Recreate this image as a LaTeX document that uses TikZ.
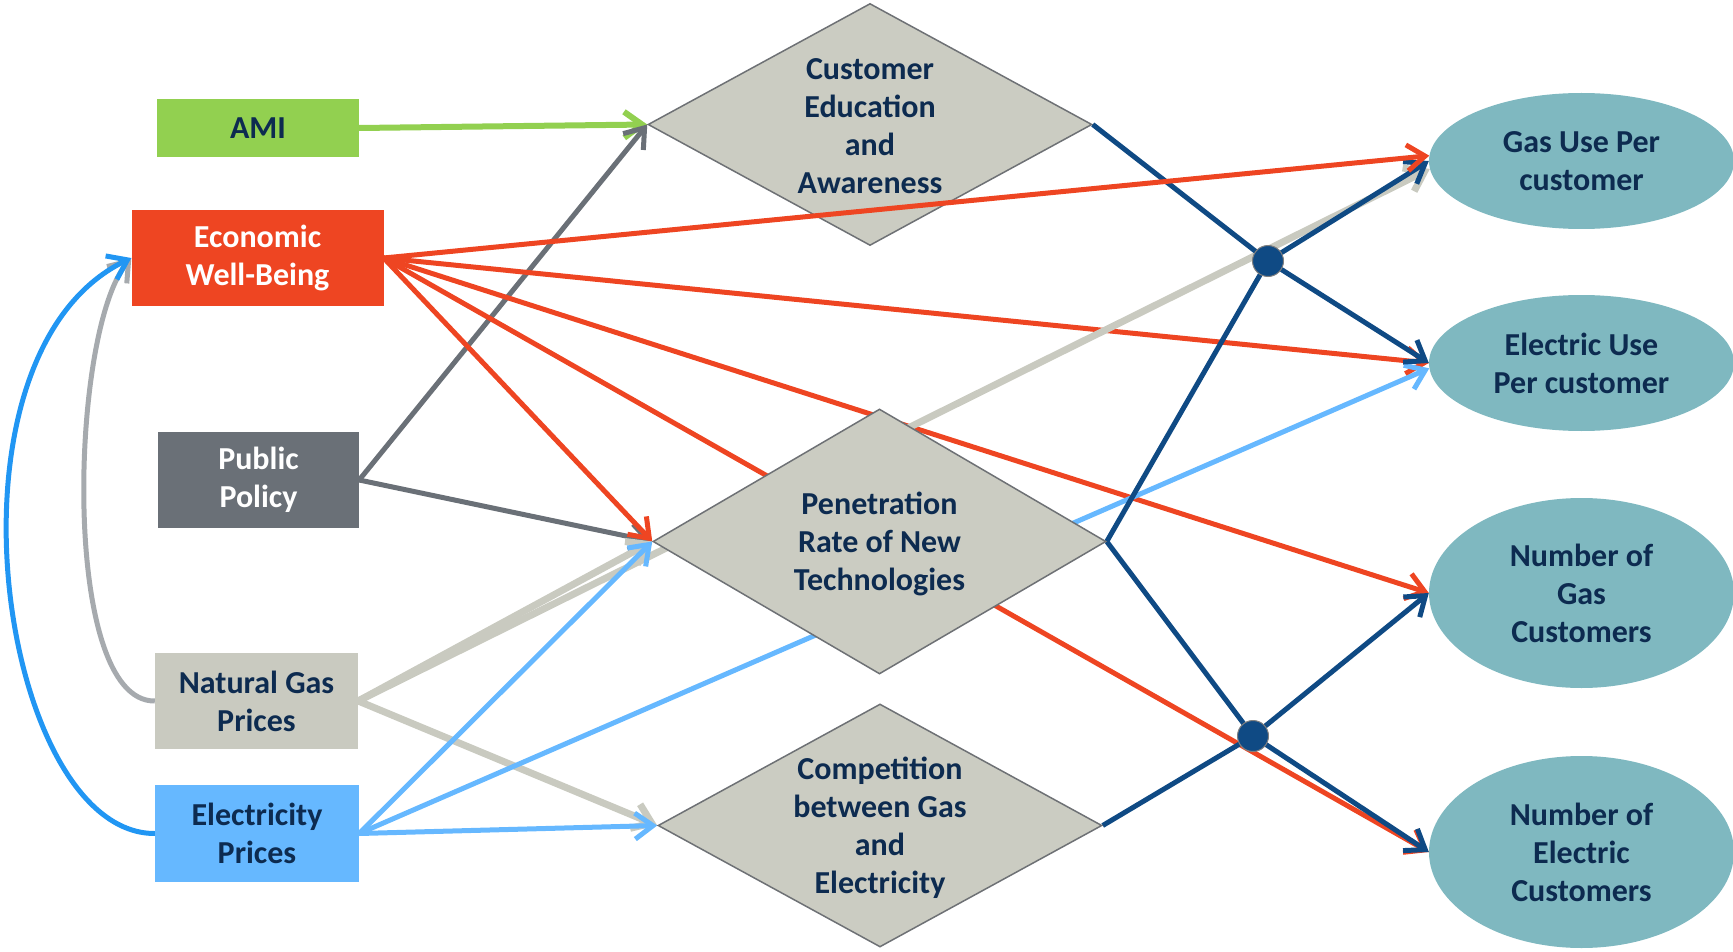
\documentclass[tikz,border=0pt]{standalone}
\usepackage{fontspec}
\setmainfont{Carlito}
\usetikzlibrary{shapes.geometric,arrows.meta}

\definecolor{navytext}{HTML}{0D2B50}
\definecolor{amigreen}{HTML}{92D050}
\definecolor{econred}{HTML}{EE4522}
\definecolor{policygray}{HTML}{6A7077}
\definecolor{gasgray}{HTML}{C9CAC0}
\definecolor{elecblue}{HTML}{66B8FF}
\definecolor{diamondfill}{HTML}{CBCCC2}
\definecolor{diamondline}{HTML}{6E7175}
\definecolor{outcometeal}{HTML}{7FB8C0}
\definecolor{linknavy}{HTML}{0F4A84}
\definecolor{loopblue}{HTML}{2196F3}
\definecolor{loopgray}{HTML}{A6AAAE}

\pgfdeclarelayer{back}
\pgfdeclarelayer{links}
\pgfsetlayers{back,links,main}

\tikzset{
  txt/.style={font=\fontsize{32}{38}\selectfont\bfseries, align=center},
  driver/.style={txt, rectangle, inner sep=0pt},
  decision/.style={diamond, fill=diamondfill, draw=diamondline, line width=1.5pt, inner sep=0pt},
  outcome/.style={txt, ellipse, fill=outcometeal, text=navytext, inner sep=0pt, minimum width=305pt},
  hub/.style={circle, fill=linknavy, draw=gray, line width=1pt, minimum size=31pt, inner sep=0pt},
  tip/.style={-{Straight Barb[length=18pt,width=26pt]}},
  link/.style={line width=5pt, line cap=round, tip},
}

\begin{document}
\begin{tikzpicture}[x=1pt, y=-1pt]
\useasboundingbox (0,0) rectangle (1733,952);

% driver boxes
\node[driver, fill=amigreen, text=navytext, minimum width=202pt, minimum height=58pt] (ami) at (258,128) {AMI};
\node[driver, fill=econred, text=white, minimum width=252pt, minimum height=96pt] (econ) at (257.5,258) {Economic\\Well-Being};
\node[driver, fill=policygray, text=white, minimum width=201pt, minimum height=96pt] (policy) at (258.5,480) {Public\\Policy};
\node[driver, fill=gasgray, text=navytext, minimum width=203pt, minimum height=96pt] (ngas) at (256.5,701) {Natural Gas\\Prices};
\node[driver, fill=elecblue, text=navytext, minimum width=204pt, minimum height=97pt] (eprice) at (257,833.5) {Electricity\\Prices};

% intermediate factors
\begin{pgfonlayer}{back}
\node[decision, minimum width=444pt, minimum height=242pt] (educ) at (870,124.5) {};
\node[txt, text=navytext] (educ-t) at ([yshift=-2pt]educ.center) {Customer\\Education\\and\\Awareness};
\end{pgfonlayer}
\node[decision, minimum width=453pt, minimum height=265pt] (pen) at (879.5,541.5) {};
\node[txt, text=navytext] (pen-t) at ([yshift=-2pt]pen.center) {Penetration\\Rate of New\\Technologies};
\node[decision, minimum width=444pt, minimum height=243pt] (comp) at (880,825.5) {};
\node[txt, text=navytext] (comp-t) at ([yshift=-2pt]comp.center) {Competition\\between Gas\\and\\Electricity};

% outcomes
\node[outcome, minimum height=136pt] (gasuse) at (1581.5,161) {Gas Use Per\\customer};
\node[outcome, minimum height=136pt] (elecuse) at (1581.5,363) {Electric Use\\Per customer};
\node[outcome, minimum height=190pt] (ngcust) at (1581.5,593) {Number of\\Gas\\Customers};
\node[outcome, minimum height=192pt] (elcust) at (1581.5,852) {Number of\\Electric\\Customers};

% junction points
\node[hub] (hubA) at (1268,261) {};
\node[hub] (hubB) at (1253,736) {};

\begin{pgfonlayer}{links}
% feedback loops into economic well-being
\draw[loopgray, line width=5pt, tip] (ngas.west) .. controls (60,702) and (70,330) .. (econ.west);
\draw[loopblue, line width=5pt, tip] (eprice.west) .. controls (0,834) and (-70,355) .. (econ.west);

% AMI and public policy
\draw[link, amigreen, line width=6pt] (ami.east) -- (educ.west);
\draw[link, policygray] (policy.east) -- (educ.west);
\draw[link, policygray] (policy.east) -- (pen.west);

% economic well-being
\draw[link, econred] (econ.east) -- (pen.west);
\draw[link, econred] (econ.east) -- (elcust.west);
\draw[link, econred] (econ.east) -- (ngcust.west);
\draw[link, econred] (econ.east) -- (elecuse.west);

% natural gas prices
\draw[link, gasgray, line width=7pt] (ngas.east) -- (pen.west);
\draw[link, gasgray, line width=7pt] (ngas.east) -- (comp.west);
\draw[link, gasgray, line width=7pt] (ngas.east) -- (gasuse.183);

% electricity prices
\draw[link, elecblue] (eprice.east) -- (pen.west);
\draw[link, elecblue] (eprice.east) -- (comp.west);
\draw[link, elecblue] (eprice.east) -- (elecuse.182);

% intermediate factors to junctions
\draw[linknavy, line width=5pt] (educ.east) -- (hubA.center);
\draw[linknavy, line width=5pt] (pen.east) -- (hubA.center);
\draw[linknavy, line width=5pt] (pen.east) -- (hubB.center);
\draw[linknavy, line width=5pt] (comp.east) -- (hubB.center);

% junctions to outcomes
\draw[link, linknavy] (hubA) -- (gasuse.west);
\draw[link, linknavy] (hubA) -- (elecuse.west);
\draw[link, linknavy] (hubB) -- (ngcust.west);
\draw[link, linknavy] (hubB) -- (elcust.west);
\end{pgfonlayer}

% this link crosses over the education diamond
\draw[link, econred] (econ.east) -- (gasuse.178);
\end{tikzpicture}
\end{document}
